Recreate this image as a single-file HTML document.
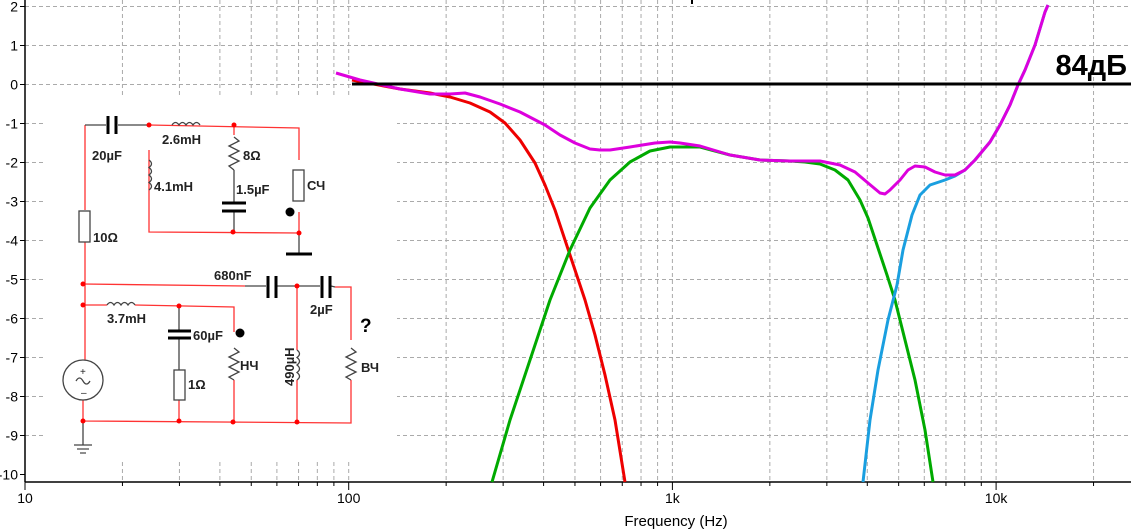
<!DOCTYPE html>
<html><head><meta charset="utf-8"><style>
body{margin:0;background:#fff;width:1131px;height:532px;overflow:hidden}
svg{display:block}
text{font-family:"Liberation Sans",sans-serif}
</style></head><body>
<svg id="s" width="1131" height="532" xmlns="http://www.w3.org/2000/svg">
<g id="grid" stroke="#aaa" stroke-width="1" stroke-dasharray="4,3" fill="none"></g>
<rect x="46" y="97" width="351" height="362" fill="#fff"/>
<g id="ax" font-size="14" fill="#000"></g>
<line x1="25" y1="0" x2="25" y2="482" stroke="#000" stroke-width="1.5"/>
<line x1="25" y1="482" x2="1131" y2="482" stroke="#000" stroke-width="1.5"/>
<rect x="691" y="0" width="2" height="4" fill="#000"/>
<text x="676" y="526" font-size="15" text-anchor="middle">Frequency (Hz)</text>

<g fill="none" stroke-width="3" stroke-linejoin="round">
<polyline stroke="#e00" points="352,80 400,89 430,93 450,97 470,103 490,112 505,123 520,140 535,163 545,185 555,210 565,240 575,270 585,300 595,335 605,375 615,420 625,482"/>
<polyline stroke="#0a0" points="492,482 510,420 530,360 550,300 570,250 590,208 610,180 630,162 650,151 670,147 700,147 730,155 760,160 790,161 805,162 820,164 835,170 848,180 860,200 868,218 878,248 887,275 895,300 905,340 915,380 925,430 933,482"/>
<polyline stroke="#1a9fe0" points="863,482 870,420 878,370 888,320 897,285 903,250 912,215 920,195 930,185 945,180 955,176 965,170 975,160 990,142 1000,125 1010,105 1018,85 1025,70 1035,45 1045,12 1048,5"/>
<polyline stroke="#d0d" points="336,73 360,80 400,89 430,94 450,94 465,93 480,97 500,104 520,112 545,125 560,135 575,143 590,149 600,150 610,150 630,147 655,143 670,142 680,143 700,146 730,155 760,160 790,161 820,161 840,165 855,172 868,183 880,193 885,194 890,190 900,180 908,170 915,166 925,167 935,172 945,175 955,175 965,170 975,160 990,142 1000,125 1010,105 1018,85 1025,70 1035,45 1045,12 1048,5"/>
</g>
<line x1="352" y1="84" x2="1131" y2="84" stroke="#000" stroke-width="3"/>
<text x="1127" y="75" font-size="29" font-weight="bold" text-anchor="end">84дБ</text>

<g fill="none" stroke="#f33" stroke-width="1.3">
<polyline points="85,210 85,125"/>
<polyline points="149,125 299,128 299,160"/>
<polyline points="149,150 149,232 299,233 299,212"/>
<polyline points="234,125 234,135"/>
<polyline points="85,242 85,360"/>
<polyline points="83,284 245,286"/>
<polyline points="83,305 107,305"/><polyline points="135,305 234,307 234,332"/>
<polyline points="297,286 297,350"/><polyline points="297,380 297,422"/>
<polyline points="335,287 351,287 351,340"/>
<polyline points="351,380 351,423 83,421 83,400"/>
<polyline points="234,380 234,421"/>
<polyline points="179,400 179,421"/>
</g>
<g fill="none" stroke="#444" stroke-width="1.3">
<polyline points="85,125 106,125"/><polyline points="118,125 149,125"/>
<polyline points="179,306 179,330"/><polyline points="179,339 179,370"/>
<polyline points="234,170 234,203"/><polyline points="234,212 234,232"/>
<polyline points="245,286 266,286"/><polyline points="277,286 320,286"/><polyline points="331,286 335,287"/>
<polyline points="299,233 299,254"/>
<polyline points="83,445 83,421"/>
<path d="M172,125 q3.5,-5 7,0 q3.5,-5 7,0 q3.5,-5 7,0 q3.5,-5 7,0"/>
<path d="M149,160 q5,3.75 0,7.5 q5,3.75 0,7.5 q5,3.75 0,7.5 q5,3.75 0,7.5"/>
<path d="M107,305 q3.5,-5 7,0 q3.5,-5 7,0 q3.5,-5 7,0 q3.5,-5 7,0"/>
<path d="M297,350 q5,3.75 0,7.5 q5,3.75 0,7.5 q5,3.75 0,7.5 q5,3.75 0,7.5"/>
<polyline points="234,137 239,141 229,146 239,151 229,156 239,161 229,166 234,170"/>
<polyline points="234,348 239,352 229,357 239,362 229,367 239,372 229,377 234,380"/>
<polyline points="351,348 356,352 346,357 356,362 346,367 356,372 346,377 351,380"/>
<rect x="79" y="211" width="11" height="31" fill="#fff"/>
<rect x="293" y="170" width="11" height="31" fill="#fff"/>
<rect x="174" y="370" width="11" height="30" fill="#fff"/>
<circle cx="83" cy="380" r="20" fill="#fff"/>
<path d="M76,381 q3.5,-6 7,0 q3.5,6 7,0"/>
</g>
<g stroke="#000" stroke-width="3">
<line x1="108" y1="116" x2="108" y2="134"/><line x1="116" y1="116" x2="116" y2="134"/>
<line x1="222" y1="203" x2="246" y2="203"/><line x1="222" y1="211" x2="246" y2="211"/>
<line x1="268" y1="276" x2="268" y2="298"/><line x1="276" y1="276" x2="276" y2="298"/>
<line x1="322" y1="276" x2="322" y2="298"/><line x1="330" y1="276" x2="330" y2="298"/>
<line x1="168" y1="331" x2="191" y2="331"/><line x1="168" y1="338" x2="191" y2="338"/>
<line x1="286" y1="254" x2="312" y2="254"/>
</g>
<g stroke="#444" stroke-width="1.2"><line x1="74" y1="445" x2="92" y2="445"/><line x1="77" y1="449" x2="89" y2="449"/><line x1="80" y1="453" x2="86" y2="453"/></g>
<g fill="#f00">
<circle cx="149" cy="125" r="2.5"/><circle cx="234" cy="125" r="2.5"/><circle cx="233" cy="232" r="2.5"/><circle cx="299" cy="233" r="2.5"/>
<circle cx="83" cy="284" r="2.5"/><circle cx="83" cy="305" r="2.5"/><circle cx="179" cy="306" r="2.5"/><circle cx="297" cy="286" r="2.5"/>
<circle cx="83" cy="421" r="2.5"/><circle cx="179" cy="421" r="2.5"/><circle cx="233" cy="422" r="2.5"/><circle cx="297" cy="422" r="2.5"/>
</g>
<circle cx="290" cy="212" r="4.5" fill="#000"/><circle cx="240" cy="333" r="4.5" fill="#000"/>
<g font-size="13" font-weight="bold" fill="#222">
<text x="92" y="160">20µF</text><text x="162" y="144">2.6mH</text><text x="243" y="160">8Ω</text>
<text x="154" y="191">4.1mH</text><text x="236" y="194">1.5µF</text><text x="307" y="190">СЧ</text>
<text x="93" y="242">10Ω</text><text x="214" y="280">680nF</text><text x="310" y="314">2µF</text>
<text x="107" y="323">3.7mH</text><text x="193" y="340">60µF</text><text x="240" y="370">НЧ</text>
<text x="188" y="389">1Ω</text><text x="361" y="372">ВЧ</text>
<text x="294" y="386" transform="rotate(-90 294 386)">490µH</text>
<text x="360" y="332" font-size="19" fill="#000">?</text>
<text x="80" y="375" font-size="10" font-weight="normal">+</text><text x="81" y="396" font-size="10" font-weight="normal">–</text>
</g>
</svg>
<script>
var NS="http://www.w3.org/2000/svg",g=document.getElementById('grid'),ax=document.getElementById('ax');
function el(p,t,a,txt){var e=document.createElementNS(NS,t);for(var k in a)e.setAttribute(k,a[k]);if(txt!=null)e.textContent=txt;p.appendChild(e);return e;}
function X(f){return 25+323.7*Math.log10(f/10);}
for(var d=10;d<=10000;d*=10){for(var m=1;m<10;m++){var x=X(d*m);if(x>1131)break;if(x>25.5)el(g,'line',{x1:x,y1:0,x2:x,y2:482});el(ax,'line',{x1:x,y1:482,x2:x,y2:m==1?490:486,stroke:'#000'});}}
var lab={10:'10',100:'100',1000:'1k',10000:'10k'};for(var f in lab)el(ax,'text',{x:X(+f),y:503,'text-anchor':'middle'},lab[f]);
for(var v=2;v>=-10;v--){var y=84.5-39*v;if(v>-10)el(g,'line',{x1:25,y1:y,x2:1131,y2:y});el(ax,'line',{x1:20,y1:y,x2:25,y2:y,stroke:'#000'});el(ax,'text',{x:18,y:y+5,'text-anchor':'end'},String(v));}
</script>
</body></html>
